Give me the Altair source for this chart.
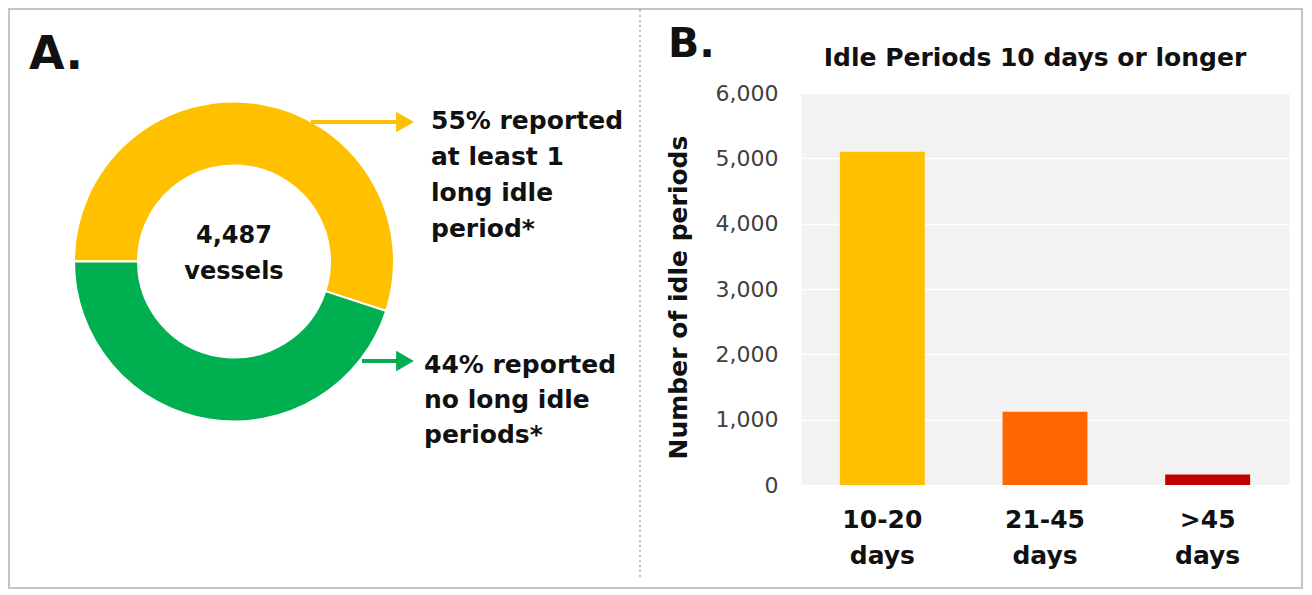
import math
import altair as alt
import pandas as pd

# ---------------- data ----------------
donut_segments = ["At least 1 long idle period", "No long idle periods"]
donut_percent = [55, 45]
vessel_total = "4,487"

bar_categories = ["10-20 days", "21-45 days", ">45 days"]
bar_counts = [5100, 1120, 160]
y_ticks = [0, 1000, 2000, 3000, 4000, 5000, 6000]

yellow_label = ["55% reported", "at least 1", "long idle", "period*"]
green_label = ["44% reported", "no long idle", "periods*"]
chart_title = "Idle Periods 10 days or longer"
y_title = "Number of idle periods"

# ---------------- styles ----------------
donut_colors = ["#FFC000", "#00B050"]
bar_colors = ["#FFC000", "#FF6600", "#C00000"]
FONT = "DejaVu Sans"
INK = "#111111"

# plot area origin on the page is (801, 93); helpers convert page px to plot px
def px(x):
    return x - 801


def py(y):
    return y - 93


donut_df = pd.DataFrame({"segment": donut_segments, "pct": donut_percent,
                         "order": list(range(len(donut_segments)))})
bar_df = pd.DataFrame({"cat": bar_categories, "count": bar_counts})
one = alt.Data(values=[{"a": 1}])

frame = alt.Chart(one).mark_rect(fillOpacity=0, stroke="#C4C4C4", strokeWidth=2).encode(
    x=alt.value(px(9)), x2=alt.value(px(1302)), y=alt.value(py(9)), y2=alt.value(py(588))
)

divider = alt.Chart(one).mark_rule(stroke="#BFBFBF", strokeWidth=2, strokeDash=[2, 3]).encode(
    x=alt.value(px(640)), y=alt.value(py(10)), y2=alt.value(py(578))
)

donut = alt.Chart(donut_df).mark_arc(radius=160, radius2=96, stroke="white", strokeWidth=2).encode(
    theta=alt.Theta("pct:Q", stack=True,
                    scale=alt.Scale(range=[1.5 * math.pi, 3.5 * math.pi], nice=False)),
    color=alt.Color("segment:N", scale=alt.Scale(domain=donut_segments, range=donut_colors), legend=None),
    order=alt.Order("order:Q"),
    x=alt.value(px(234)),
    y=alt.value(py(261.5)),
)


def arrow(x1, x2, y, color):
    line = alt.Chart(one).mark_rule(stroke=color, strokeWidth=4).encode(
        x=alt.value(px(x1)), x2=alt.value(px(x2)), y=alt.value(py(y))
    )
    head = alt.Chart(one).mark_point(shape="triangle-right", filled=True, size=420,
                                     color=color, opacity=1).encode(
        x=alt.value(px(x2 + 7)), y=alt.value(py(y))
    )
    return line + head


def txt(lines, x, y, size, weight="bold", align="left", lh=36, color=INK):
    return alt.Chart(one).mark_text(
        text=lines, font=FONT, fontSize=size, fontWeight=weight, align=align,
        baseline="alphabetic", lineHeight=lh, color=color
    ).encode(x=alt.value(px(x)), y=alt.value(py(y)))


arrows = arrow(311, 398, 122, donut_colors[0]) + arrow(362, 398, 361, donut_colors[1])

texts = (
    txt(["A."], 29, 69, 46)
    + txt(["B."], 668, 57, 41)
    + txt([chart_title], 1035, 66, 25, align="center")
    + txt(yellow_label, 431, 129, 25, lh=36)
    + txt(green_label, 424, 373, 25, lh=35)
    + txt([vessel_total, "vessels"], 234, 243, 24, align="center", lh=36)
)

bars = alt.Chart(bar_df).mark_bar().encode(
    x=alt.X("cat:N", sort=bar_categories,
            scale=alt.Scale(paddingInner=0.478, paddingOuter=0.239),
            axis=alt.Axis(title=None, labelExpr="split(datum.label, ' ')", labelAngle=0,
                          labelFont=FONT, labelFontSize=25, labelFontWeight="bold",
                          labelColor=INK, labelPadding=22, labelLineHeight=36,
                          domain=False, ticks=False, grid=False)),
    y=alt.Y("count:Q", scale=alt.Scale(domain=[0, 6000], nice=False),
            axis=alt.Axis(values=y_ticks, format=",.0f", title=y_title,
                          labelFont=FONT, labelFontSize=22, labelColor="#404040",
                          labelPadding=23, domain=False, ticks=False,
                          grid=True, gridColor="white", gridWidth=1.5,
                          titleFont=FONT, titleFontSize=25, titleFontWeight="bold",
                          titleColor=INK, titleAngle=270, titleAlign="center",
                          titleBaseline="middle", titleX=px(678), titleY=py(297))),
    color=alt.Color("cat:N", scale=alt.Scale(domain=bar_categories, range=bar_colors), legend=None),
)

chart = alt.layer(frame, divider, donut, arrows, texts, bars).resolve_scale(
    color="independent"
).properties(
    width=488,
    height=392,
    padding={"left": 793, "top": 85, "right": 14, "bottom": 104},
    autosize=alt.AutoSizeParams(type="none"),
).configure(
    background="white",
    view=alt.ViewConfig(fill="#F2F2F2", stroke="transparent"),
)

chart.save("out.html", embed_options={"renderer": "svg", "actions": False})
